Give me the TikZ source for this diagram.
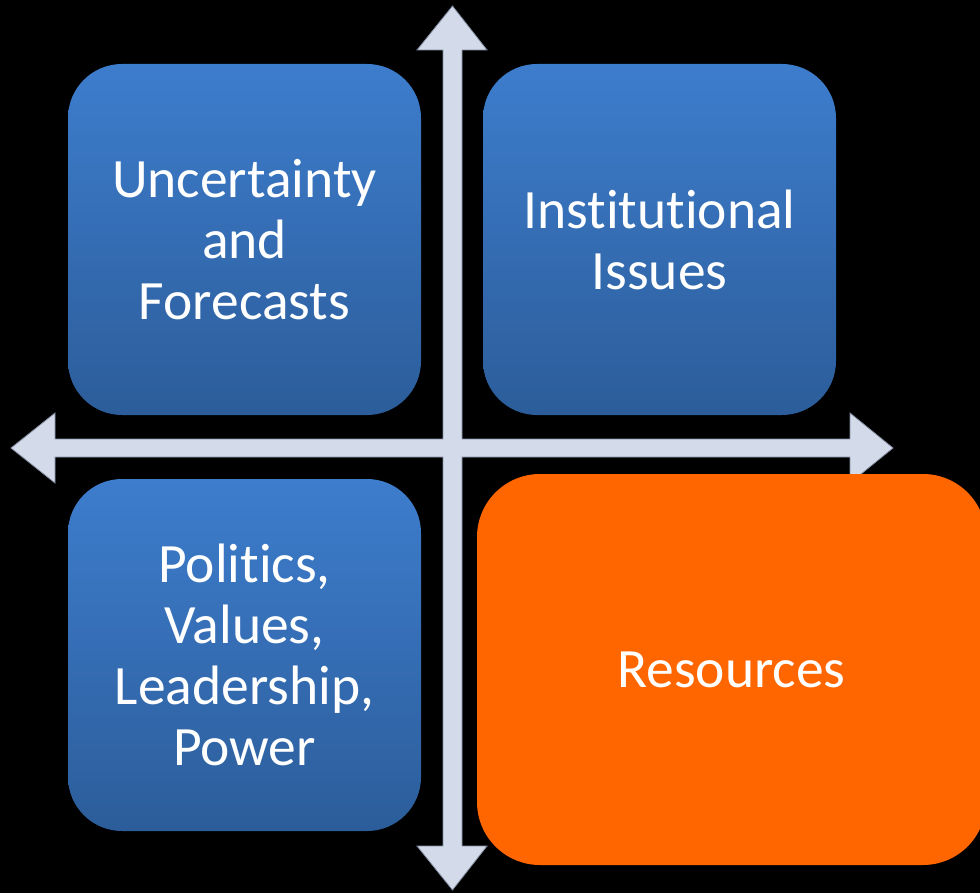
\documentclass[tikz,border=0pt]{standalone}
\usepackage{fontspec}
\setmainfont[Ligatures={NoCommon}]{Carlito}
\definecolor{bluetop}{RGB}{61,125,205}
\definecolor{bluebot}{RGB}{44,93,154}
\definecolor{orangefill}{RGB}{255,102,0}
\definecolor{arrowfill}{RGB}{211,218,233}
\definecolor{arrowline}{RGB}{130,140,160}
\tikzset{
  quadbox/.style={rounded corners=54pt, minimum width=353pt, minimum height=351pt,
    inner sep=0pt, top color=bluetop, bottom color=bluebot, draw=none,
    text=white, align=center, font=\fontsize{55.5}{61}\selectfont},
  hotbox/.style={rounded corners=63pt, minimum width=509pt, minimum height=391pt,
    inner sep=0pt, fill=orangefill, draw=none,
    text=white, align=center, font=\fontsize{55.5}{61}\selectfont},
  crossarrow/.style={fill=arrowfill, draw=arrowline, line width=0.8pt, line join=miter}
}
\begin{document}
\begin{tikzpicture}[x=1pt,y=-1pt]
\useasboundingbox (0,0) rectangle (980,893);
\clip (0,0) rectangle (980,893);
\fill[black] (0,0) rectangle (980,893);
% cross arrows
\draw[crossarrow] (452.5,6) -- (487,50) -- (462,50) -- (462,439) -- (850,439) -- (850,413)
  -- (893,448) -- (850,483) -- (850,457) -- (462,457) -- (462,846) -- (487,846)
  -- (452.5,890) -- (417,846) -- (443,846) -- (443,457) -- (55,457) -- (55,483)
  -- (11,448) -- (55,413) -- (55,439) -- (443,439) -- (443,50) -- (417,50) -- cycle;
% boxes
\node[quadbox] (uncert) at (244.5,239.5) {Uncertainty\\and\\Forecasts};
\node[quadbox] (instit) at (659.5,239.5) {Institutional\\Issues};
\node[quadbox, minimum height=352pt] (polit) at (244.5,655) {Politics,\\Values,\\Leadership,\\Power};
\node[hotbox] (resources) at (731.5,669.5) {Resources};
\end{tikzpicture}
\end{document}
